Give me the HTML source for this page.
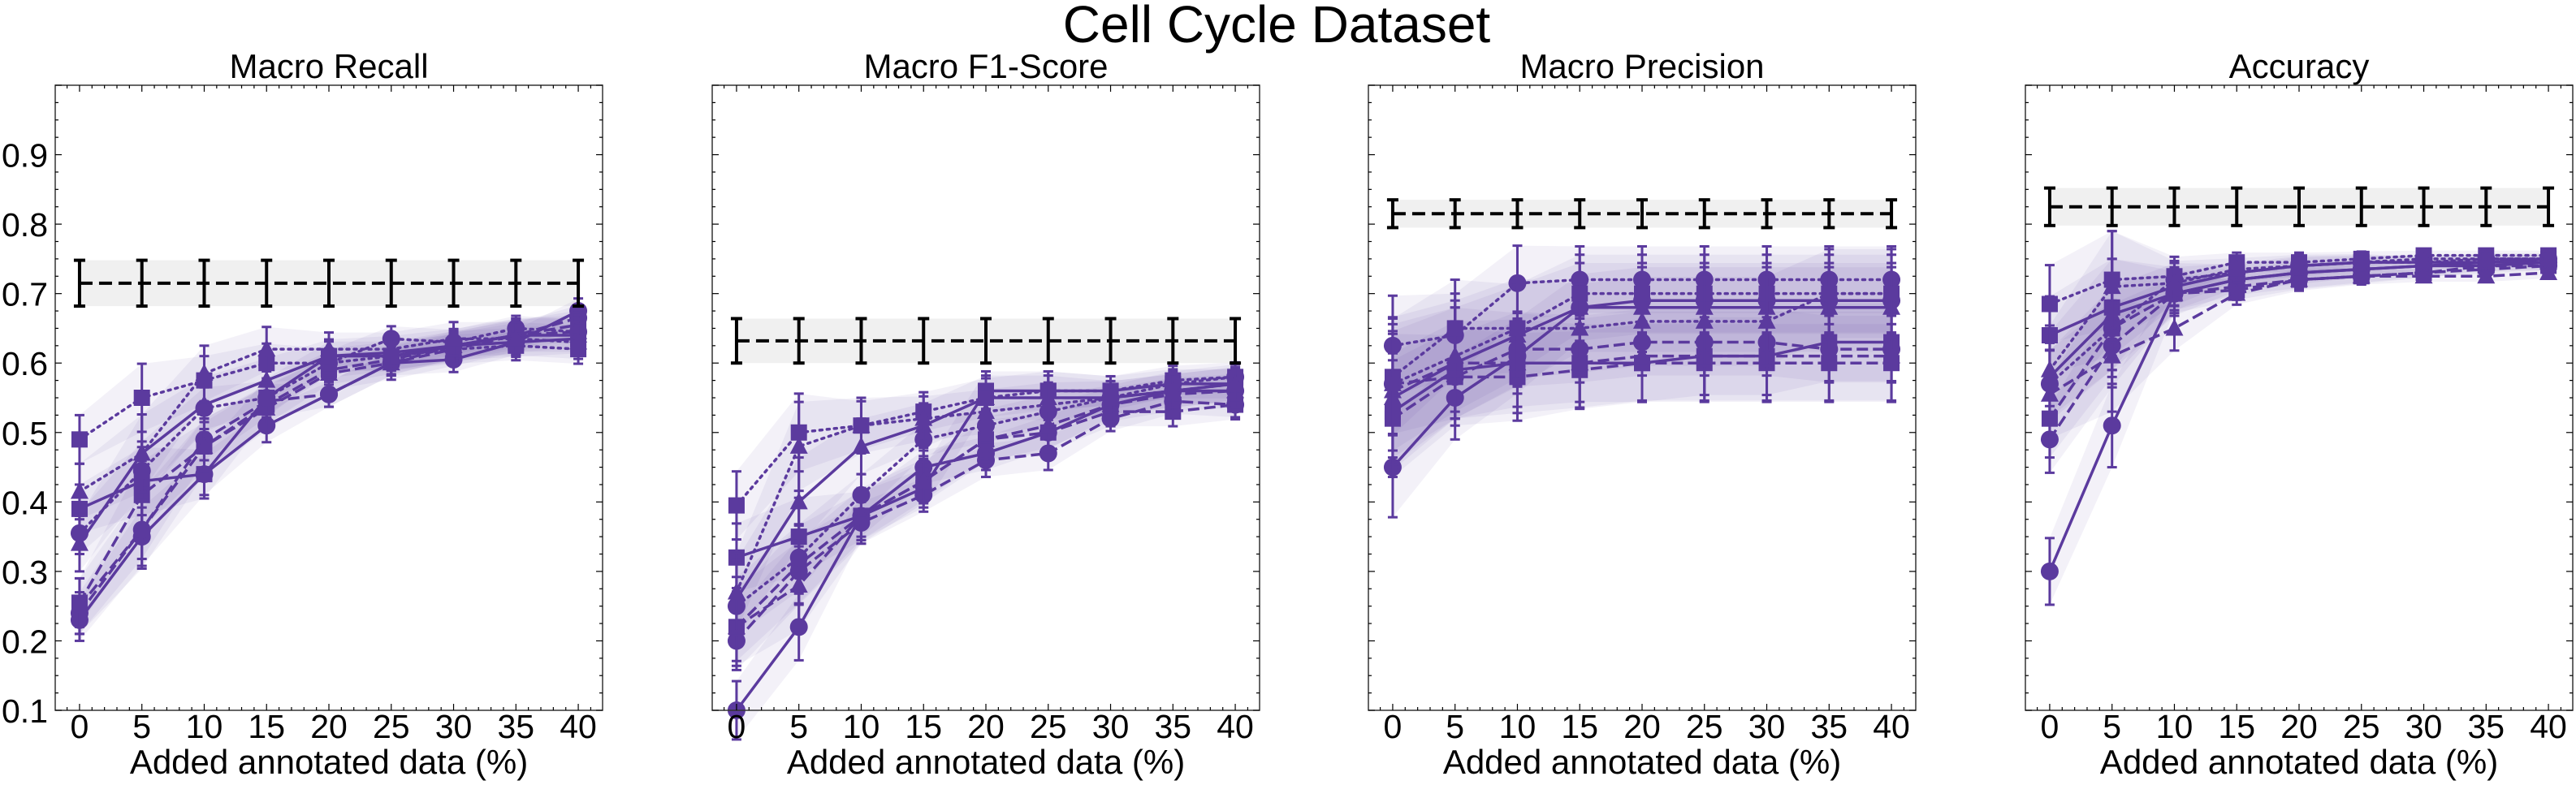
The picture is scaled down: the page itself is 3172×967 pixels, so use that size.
<!DOCTYPE html>
<html><head><meta charset="utf-8">
<style>
html,body{margin:0;padding:0;background:#fff;}
svg{display:block;font-family:"Liberation Sans",Arial,sans-serif;}
</style></head>
<body>
<svg id="chart" width="3172" height="967" viewBox="0 0 3172 967">
<text x="1572" y="52" text-anchor="middle" font-size="64">Cell Cycle Dataset</text>
</svg>
<script>
const xCats = [0,5,10,15,20,25,30,35,40];
const yTicks = [0.1,0.2,0.3,0.4,0.5,0.6,0.7,0.8,0.9];
const panelTitles = ["Macro Recall","Macro F1-Score","Macro Precision","Accuracy"];
const baselineMean = [0.715,0.632,0.815,0.825];
const baselineErr = [0.033,0.032,0.02,0.027];
const seriesStyles = ["solid","solid","solid","dashed","dashed","dashed","dotted","dotted","dotted"];
const seriesMarkers = ["circle","square","triangle","circle","square","triangle","circle","square","triangle"];
const recallVals = [
[0.23,0.35,0.44,0.51,0.555,0.60,0.605,0.63,0.675],
[0.39,0.43,0.44,0.55,0.61,0.61,0.625,0.63,0.635],
[0.34,0.47,0.54,0.575,0.61,0.615,0.625,0.64,0.64],
[0.24,0.36,0.49,0.545,0.555,0.60,0.625,0.64,0.665],
[0.255,0.41,0.48,0.54,0.59,0.605,0.625,0.64,0.655],
[0.25,0.36,0.48,0.535,0.585,0.60,0.62,0.64,0.645],
[0.355,0.445,0.535,0.55,0.60,0.635,0.63,0.65,0.645],
[0.49,0.55,0.575,0.60,0.60,0.61,0.62,0.625,0.62],
[0.415,0.47,0.585,0.62,0.62,0.62,0.635,0.635,0.63]];
const f1Vals = [
[0.10,0.22,0.38,0.45,0.47,0.50,0.54,0.56,0.56],
[0.32,0.35,0.38,0.42,0.56,0.56,0.56,0.57,0.57],
[0.26,0.40,0.48,0.51,0.55,0.55,0.55,0.56,0.57],
[0.20,0.30,0.37,0.41,0.46,0.47,0.52,0.545,0.54],
[0.22,0.31,0.38,0.43,0.49,0.50,0.53,0.53,0.54],
[0.22,0.28,0.38,0.43,0.49,0.51,0.54,0.555,0.56],
[0.25,0.32,0.41,0.49,0.51,0.53,0.55,0.57,0.58],
[0.395,0.50,0.51,0.53,0.55,0.56,0.56,0.575,0.58],
[0.27,0.48,0.51,0.52,0.53,0.54,0.55,0.56,0.57]];
const precVals = [
[0.45,0.55,0.61,0.68,0.69,0.69,0.69,0.69,0.69],
[0.53,0.59,0.60,0.60,0.60,0.61,0.61,0.63,0.63],
[0.55,0.60,0.64,0.68,0.68,0.68,0.68,0.68,0.68],
[0.57,0.58,0.62,0.62,0.63,0.63,0.63,0.62,0.62],
[0.52,0.58,0.58,0.59,0.60,0.60,0.60,0.60,0.60],
[0.56,0.60,0.60,0.60,0.61,0.61,0.61,0.61,0.61],
[0.625,0.64,0.715,0.72,0.72,0.72,0.72,0.72,0.72],
[0.58,0.65,0.65,0.70,0.70,0.70,0.70,0.70,0.70],
[0.57,0.61,0.65,0.65,0.66,0.66,0.66,0.70,0.70]];
const accVals = [
[0.30,0.51,0.70,0.72,0.73,0.735,0.74,0.745,0.745],
[0.64,0.68,0.71,0.73,0.74,0.745,0.745,0.745,0.75],
[0.58,0.67,0.70,0.72,0.73,0.735,0.74,0.74,0.745],
[0.49,0.625,0.70,0.71,0.72,0.725,0.73,0.735,0.74],
[0.52,0.65,0.70,0.705,0.72,0.725,0.73,0.74,0.74],
[0.555,0.61,0.65,0.70,0.72,0.725,0.725,0.725,0.73],
[0.57,0.65,0.72,0.73,0.74,0.745,0.75,0.75,0.75],
[0.685,0.72,0.725,0.745,0.745,0.75,0.755,0.755,0.755],
[0.59,0.71,0.715,0.735,0.74,0.745,0.745,0.75,0.75]];
const recallErr = [0.05,0.07,0.05,0.04,0.03,0.03,0.03,0.03,0.03];
const f1Err = [0.07,0.08,0.05,0.04,0.04,0.04,0.03,0.03,0.03];
const precErr = [0.12,0.1,0.09,0.08,0.08,0.08,0.08,0.08,0.08];
const accErr = [0.08,0.1,0.04,0.02,0.02,0.015,0.01,0.01,0.01];

const panelVals = [recallVals,f1Vals,precVals,accVals];
const panelErrs = [recallErr,f1Err,precErr,accErr];
const boxes = [[68,742],[877,1551],[1685,2359],[2494,3168]];
const TOP=105, BOT=875, YMIN=0.1, YMAX=1.0, XMIN=-1.95, XMAX=41.95;
const COL="#5b3a9e";
const NS="http://www.w3.org/2000/svg";
const svg=document.getElementById('chart');
function el(tag,attrs,parent){const e=document.createElementNS(NS,tag);for(const k in attrs)e.setAttribute(k,attrs[k]);(parent||svg).appendChild(e);return e;}
function yS(v){return BOT-(v-YMIN)/(YMAX-YMIN)*(BOT-TOP);}

panelVals.forEach((vals,p)=>{
  const [L,R]=boxes[p];
  const xS=v=>L+(v-XMIN)/(XMAX-XMIN)*(R-L);
  const g=el('g',{});
  
  
  const t=el('text',{x:(L+R)/2,y:96,'text-anchor':'middle','font-size':42},g);
  t.textContent=panelTitles[p];
  
  
  const bm=baselineMean[p], be=baselineErr[p];
  const band=el('rect',{x:xS(xCats[0]),y:yS(bm+be),width:xS(xCats[8])-xS(xCats[0]),height:yS(bm-be)-yS(bm+be),fill:'#f0f0f0'},g);
  
  
  const err=panelErrs[p];
  vals.forEach((s,i)=>{
    let up=s.map((v,k)=>xS(xCats[k])+','+yS(v+err[k]*(0.6+0.1*(i%3))));
    let dn=s.map((v,k)=>xS(xCats[k])+','+yS(v-err[k]*(0.6+0.1*(i%3)))).reverse();
    const pg=el('polygon',{points:up.concat(dn).join(' '),fill:COL,'fill-opacity':0.07},g);
    
    
  });
  vals.forEach((s,i)=>{
    const sg=el('g',{},g);
    
    
    const dash=seriesStyles[i]==='dashed'?'14,6':(seriesStyles[i]==='dotted'?'3,6':'none');
    el('polyline',{points:s.map((v,k)=>xS(xCats[k])+','+yS(v)).join(' '),fill:'none',stroke:COL,'stroke-width':3.5,'stroke-dasharray':dash,'stroke-linecap':seriesStyles[i]==='dotted'?'round':'butt'},sg);
    s.forEach((v,k)=>{
      const x=xS(xCats[k]), y=yS(v), e=err[k]*(0.6+0.1*(i%3));
      el('line',{x1:x,x2:x,y1:yS(v-e),y2:yS(v+e),stroke:COL,'stroke-width':3},sg);
      el('line',{x1:x-6,x2:x+6,y1:yS(v-e),y2:yS(v-e),stroke:COL,'stroke-width':3},sg);
      el('line',{x1:x-6,x2:x+6,y1:yS(v+e),y2:yS(v+e),stroke:COL,'stroke-width':3},sg);
      let m;
      if(seriesMarkers[i]==='circle') m=el('circle',{cx:x,cy:y,r:11,fill:COL},sg);
      else if(seriesMarkers[i]==='square') m=el('rect',{x:x-10,y:y-10,width:20,height:20,fill:COL},sg);
      else m=el('polygon',{points:`${x},${y-12} ${x+11},${y+9} ${x-11},${y+9}`,fill:COL},sg);
      
      
    });
  });
  const bl=el('line',{x1:xS(0),x2:xS(40),y1:yS(bm),y2:yS(bm),stroke:'#000','stroke-width':4,'stroke-dasharray':'16,8'},g);
  
  
  xCats.forEach(c=>{
    const x=xS(c);
    el('line',{x1:x,x2:x,y1:yS(bm-be),y2:yS(bm+be),stroke:'#000','stroke-width':4},g);
    el('line',{x1:x-7,x2:x+7,y1:yS(bm-be),y2:yS(bm-be),stroke:'#000','stroke-width':4},g);
    el('line',{x1:x-7,x2:x+7,y1:yS(bm+be),y2:yS(bm+be),stroke:'#000','stroke-width':4},g);
  });
  const fr=el('rect',{x:L,y:TOP,width:R-L,height:BOT-TOP,fill:'none',stroke:'#333','stroke-width':1.5},g);
  
  
  for(let n=0;n<=36;n++){
    const v=0.1+n*0.025; const y=yS(v); const major=(n%4===0);
    const len=major?8:4;
    el('line',{x1:L,x2:L+len,y1:y,y2:y,stroke:'#000','stroke-width':1.2},g);
    el('line',{x1:R,x2:R-len,y1:y,y2:y,stroke:'#000','stroke-width':1.2},g);
  }
  if(p===0){
    yTicks.forEach(v=>{
      const tt=el('text',{x:L-9,y:yS(v)+15,'text-anchor':'end','font-size':41},g);
      tt.textContent=v.toFixed(1);
      
      
    });
  }
  for(let c=-1;c<=41;c+=1){
    const x=xS(c); const len=(c%5===0)?8:4;
    el('line',{x1:x,x2:x,y1:BOT,y2:BOT-len,stroke:'#000','stroke-width':1.2},g);
    el('line',{x1:x,x2:x,y1:TOP,y2:TOP+len,stroke:'#000','stroke-width':1.2},g);
  }
  xCats.forEach(c=>{
    const tt=el('text',{x:xS(c),y:909,'text-anchor':'middle','font-size':41},g);
    tt.textContent=c;
    
    
  });
  const xl=el('text',{x:(L+R)/2,y:953,'text-anchor':'middle','font-size':42},g);
  xl.textContent='Added annotated data (%)';
  
  
});
</script>
</body></html>
